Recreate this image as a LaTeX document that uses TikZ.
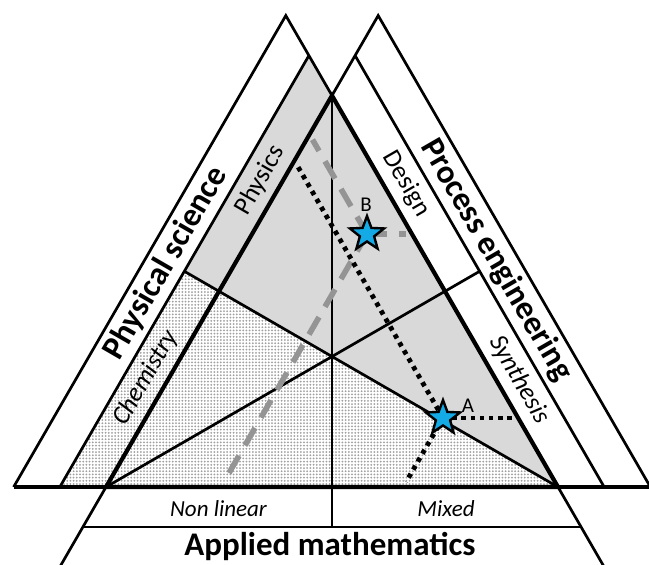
\documentclass[tikz,border=0pt]{standalone}
\usepackage{fontspec}
\setmainfont{Carlito}
\usetikzlibrary{patterns,shapes.geometric}

\definecolor{starblue}{RGB}{20,170,230}
\pgfdeclarepatternformonly{finedots}{\pgfqpoint{-0.6pt}{-0.6pt}}{\pgfqpoint{0.6pt}{0.6pt}}{\pgfqpoint{1.6pt}{1.6pt}}{\pgfpathcircle{\pgfpointorigin}{0.5pt}\pgfusepath{fill}}

\begin{document}
\begin{tikzpicture}[x=0.5pt,y=-0.5pt,
  bandline/.style={line width=1.35pt},
  rim/.style={line width=2.1pt},
  bandtitle/.style={font=\fontsize{16.5}{18}\selectfont\bfseries},
  partlabel/.style={font=\fontsize{13}{15}\selectfont},
  readdash/.style={black!42,line width=2.8pt,dash pattern=on 10pt off 6pt},
  readdot/.style={black,line width=2.4pt,dash pattern=on 2.2pt off 2.4pt},
  starmark/.style={star,star points=5,star point ratio=2.4,minimum size=18pt,inner sep=0pt,draw,line width=1.2pt,fill=starblue}]
  \useasboundingbox (0,0) rectangle (649,564);
  \fill[white] (0,0) rectangle (649,564);
  \clip (0,0) rectangle (649,564);

  % inner triangle, centroid, side midpoints and their extensions into the bands
  \coordinate (L) at (106,487);
  \coordinate (R) at (558,487);
  \coordinate (T) at (332,95.56);
  \coordinate (EL) at (184.36,271.28);
  \coordinate (ER) at (479.64,271.28);
  \coordinate (EB) at (332,527);
  % band corners
  \coordinate (lmb) at (59.81,487);  \coordinate (lma) at (308.9,55.55);
  \coordinate (lob) at (13.62,487);  \coordinate (loa) at (285.81,15.55);
  \coordinate (rmb) at (604.19,487); \coordinate (rma) at (355.1,55.55);
  \coordinate (rob) at (650.38,487); \coordinate (roa) at (378.19,15.55);
  \coordinate (bml) at (82.91,527);  \coordinate (bmr) at (581.09,527);
  \coordinate (bol) at (59.8,567);   \coordinate (bor) at (604.2,567);

  \fill[pattern=finedots,pattern color=black!38] (lmb) -- (EL) -- (R) -- cycle;
  \fill[black!15] (EL) -- (lma) -- (R) -- cycle;

  \draw[bandline] (lob) -- (loa) -- (bor);
  \draw[bandline] (rob) -- (roa) -- (bol);
  \draw[bandline] (lmb) -- (lma);
  \draw[bandline] (rmb) -- (rma);
  \draw[bandline] (bml) -- (bmr);
  \draw[bandline] (bol) -- (bor);
  \draw[bandline] (R) -- (EL);
  \draw[bandline] (L) -- (ER);
  \draw[bandline] (T) -- (EB);
  \draw[rim] (lob) -- (rob);
  \draw[rim] (L) -- (R) -- (T) -- cycle;

  % reading lines of the two points
  \coordinate (Bl) at (309.5,134.47);
  \coordinate (Br) at (411.9,234);
  \coordinate (Bb) at (220.9,487);
  \coordinate (Al) at (294.4,160.6);
  \coordinate (Ar) at (518.1,418);
  \coordinate (Ab) at (403.2,487);
  \coordinate (Bc) at (367,234);
  \coordinate (Ac) at (443,418);
  \foreach \e in {Bl,Br,Bb} { \draw[readdash,shorten >=3pt] (Bc) -- (\e); }
  \foreach \e in {Al,Ar,Ab} { \draw[readdot,shorten >=3pt] (Ac) -- (\e); }
  \node[starmark] (B) at (Bc) {};
  \node[starmark] (A) at (Ac) {};
  \node[font=\fontsize{10.5}{12}\selectfont,anchor=base] (labB) at (366,211) {B};
  \node[font=\fontsize{10.5}{12}\selectfont,anchor=base] (labA) at (468,412) {A};

  \node[bandtitle,rotate=60] (physci) at (166,263) {Physical science};
  \node[bandtitle,rotate=-60] (proceng) at (496.2,260) {Process engineering};
  \node[bandtitle,anchor=base] (appmath) at (330,555) {Applied mathematics};
  \node[partlabel,rotate=60] (physics) at (260.2,180) {Physics};
  \node[partlabel,rotate=60] (chem) at (145.8,378) {\itshape Chemistry};
  \node[partlabel,rotate=-60] (design) at (406.2,184) {Design};
  \node[partlabel,rotate=-60] (synth) at (519.3,380) {\itshape Synthesis};
  \node[partlabel,font=\fontsize{11.5}{14}\selectfont\itshape,anchor=base] (nonlin) at (218.5,516) {Non linear};
  \node[partlabel,font=\fontsize{11.5}{14}\selectfont\itshape,anchor=base] (mixed) at (446,516) {Mixed};
\end{tikzpicture}
\end{document}
